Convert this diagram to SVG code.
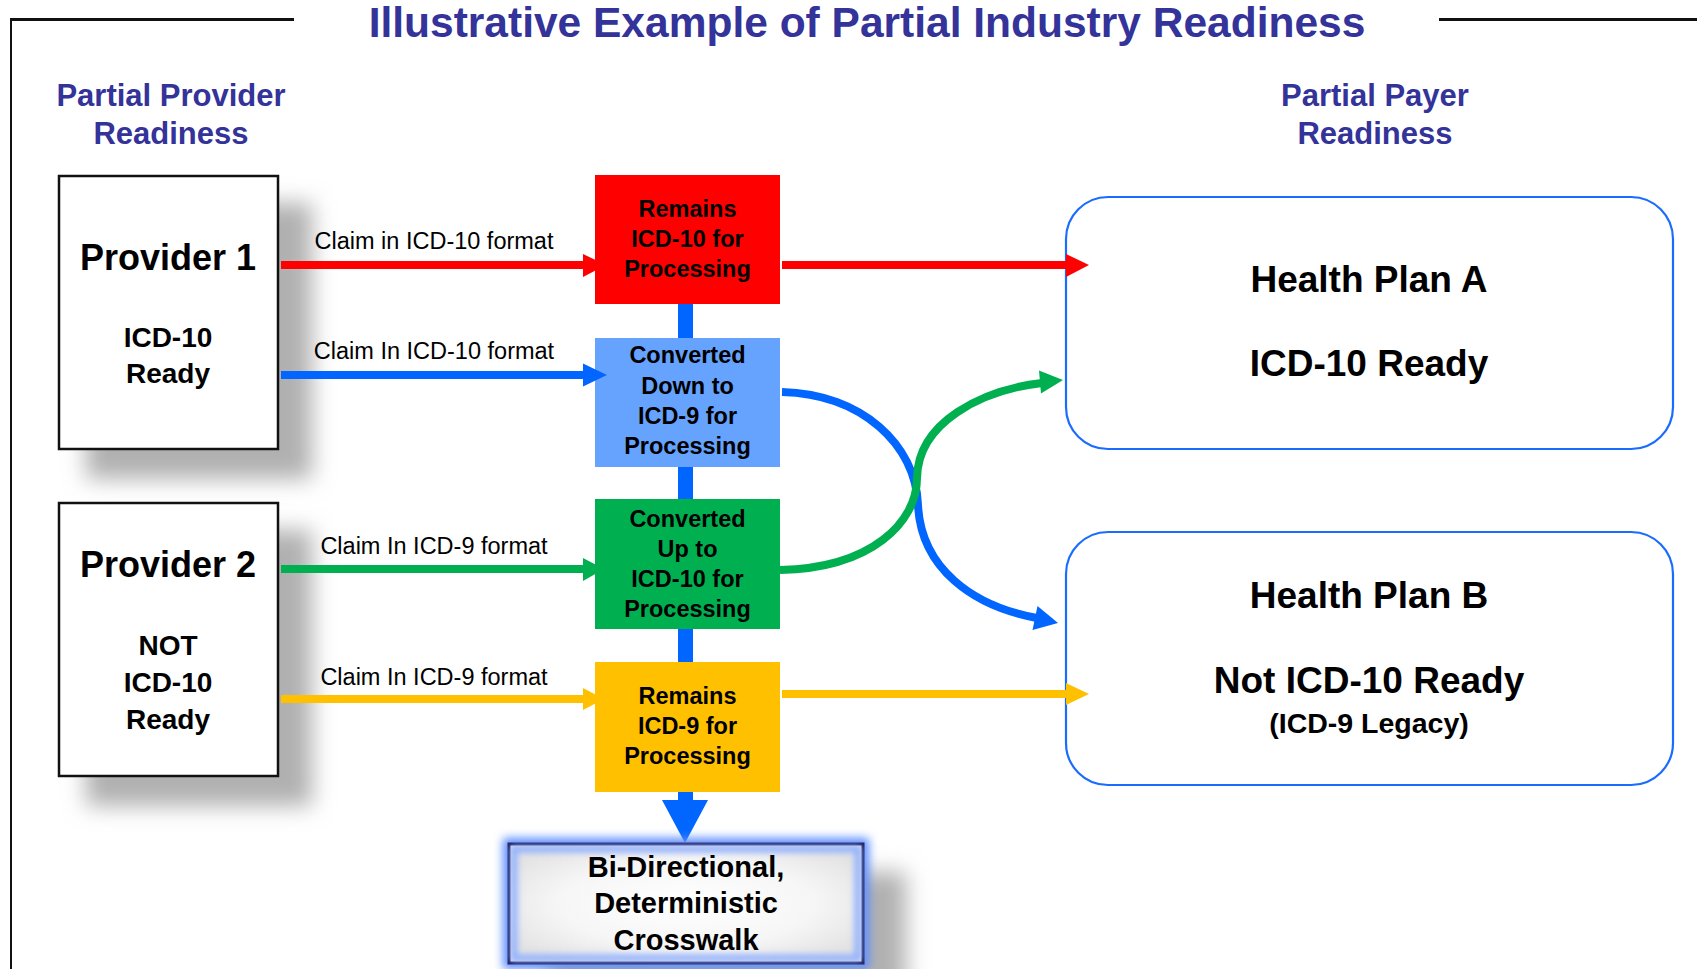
<svg xmlns="http://www.w3.org/2000/svg" width="1697" height="969" viewBox="0 0 1697 969">
<style>
  text { font-family: "Liberation Sans", Arial, sans-serif; text-anchor: middle; }
  .title { font-size: 42.5px; font-weight: bold; fill: #333399; }
  .head { font-size: 31px; font-weight: bold; fill: #333399; }
  .pbig { font-size: 36px; font-weight: bold; fill: #000; }
  .psub { font-size: 28px; font-weight: bold; fill: #000; }
  .mid { font-size: 23.5px; font-weight: bold; fill: #000; }
  .lbl { font-size: 23.5px; fill: #000; }
  .plan { font-size: 37px; font-weight: bold; fill: #000; }
  .legacy { font-size: 28.5px; font-weight: bold; fill: #000; }
  .cw { font-size: 29px; font-weight: bold; fill: #000; }
  .pbox { fill: #fff; stroke: #111; stroke-width: 2.5; }
  .hp { fill: #fff; stroke: #1a6cff; stroke-width: 2.2; }
  .shadow { fill: #b0b0b0; filter: url(#blur); }
</style>
<defs>
  <filter id="blur" x="-30%" y="-30%" width="160%" height="160%">
    <feGaussianBlur stdDeviation="11"/>
  </filter>
  <filter id="glow" x="-20%" y="-30%" width="140%" height="160%">
    <feGaussianBlur stdDeviation="5"/>
  </filter>
  <filter id="inglow" x="-10%" y="-20%" width="120%" height="140%">
    <feGaussianBlur stdDeviation="3"/>
  </filter>
  <radialGradient id="cwfill" cx="50%" cy="50%" r="60%">
    <stop offset="0" stop-color="#ffffff"/>
    <stop offset="0.6" stop-color="#f6f6f6"/>
    <stop offset="1" stop-color="#e2e2e2"/>
  </radialGradient>
</defs>

<!-- frame and title -->
<g id="frame">
  <line x1="11" y1="19.5" x2="294" y2="19.5" stroke="#111" stroke-width="3"/>
  <line x1="1439" y1="19.5" x2="1697" y2="19.5" stroke="#111" stroke-width="3"/>
  <line x1="11" y1="18" x2="11" y2="969" stroke="#111" stroke-width="2"/>
</g>
<g id="title">
  <text class="title" x="867" y="37">Illustrative Example of Partial Industry Readiness</text>
</g>
<g id="heading-provider">
  <text class="head" x="171" y="106">Partial Provider</text>
  <text class="head" x="171" y="144">Readiness</text>
</g>
<g id="heading-payer">
  <text class="head" x="1375" y="106">Partial Payer</text>
  <text class="head" x="1375" y="144">Readiness</text>
</g>

<!-- providers -->
<g id="provider1">
  <rect class="shadow" x="86" y="203" width="226" height="276"/>
  <rect class="pbox" x="59" y="176" width="219" height="273"/>
  <text class="pbig" x="168" y="270">Provider 1</text>
  <text class="psub" x="168" y="347">ICD-10</text>
  <text class="psub" x="168" y="383">Ready</text>
</g>
<g id="provider2">
  <rect class="shadow" x="86" y="530" width="226" height="276"/>
  <rect class="pbox" x="59" y="503" width="219" height="273"/>
  <text class="pbig" x="168" y="577">Provider 2</text>
  <text class="psub" x="168" y="655">NOT</text>
  <text class="psub" x="168" y="692">ICD-10</text>
  <text class="psub" x="168" y="729">Ready</text>
</g>

<!-- central blue spine (behind boxes) -->
<g id="spine">
  <rect x="678" y="300" width="15" height="502" fill="#0066ff"/>
  <polygon points="662,800 708,800 685,843" fill="#0066ff"/>
</g>

<!-- crosswalk -->
<g id="crosswalk">
  <rect class="shadow" x="548" y="872" width="358" height="120"/>
  <rect x="503" y="838" width="366" height="131" fill="#5b8cff" filter="url(#glow)"/>
  <rect x="509" y="844" width="354" height="119" fill="url(#cwfill)" stroke="#1a1a5c" stroke-width="3"/>
  <rect x="514" y="849" width="344" height="109" fill="none" stroke="#8fb0ff" stroke-width="7" filter="url(#inglow)"/>
  <text class="cw" x="686" y="877">Bi-Directional,</text>
  <text class="cw" x="686" y="913">Deterministic</text>
  <text class="cw" x="686" y="950">Crosswalk</text>
</g>

<!-- middle boxes -->
<g id="box-remains10">
  <rect x="595" y="175" width="185" height="129" fill="#ff0000"/>
  <text class="mid" x="687.5" y="217">Remains</text>
  <text class="mid" x="687.5" y="247">ICD-10 for</text>
  <text class="mid" x="687.5" y="277">Processing</text>
</g>
<g id="box-down9">
  <rect x="595" y="338" width="185" height="129" fill="#66a3ff"/>
  <text class="mid" x="687.5" y="363">Converted</text>
  <text class="mid" x="687.5" y="394">Down to</text>
  <text class="mid" x="687.5" y="424">ICD-9 for</text>
  <text class="mid" x="687.5" y="454">Processing</text>
</g>
<g id="box-up10">
  <rect x="595" y="499" width="185" height="130" fill="#00b050"/>
  <text class="mid" x="687.5" y="527">Converted</text>
  <text class="mid" x="687.5" y="557">Up to</text>
  <text class="mid" x="687.5" y="587">ICD-10 for</text>
  <text class="mid" x="687.5" y="617">Processing</text>
</g>
<g id="box-remains9">
  <rect x="595" y="662" width="185" height="130" fill="#ffc000"/>
  <text class="mid" x="687.5" y="704">Remains</text>
  <text class="mid" x="687.5" y="734">ICD-9 for</text>
  <text class="mid" x="687.5" y="764">Processing</text>
</g>

<!-- health plans -->
<g id="plan-a">
  <rect class="hp" x="1066" y="197" width="607" height="252" rx="42" ry="42"/>
  <text class="plan" x="1369" y="292">Health Plan A</text>
  <text class="plan" x="1369" y="376">ICD-10 Ready</text>
</g>
<g id="plan-b">
  <rect class="hp" x="1066" y="532" width="607" height="253" rx="42" ry="42"/>
  <text class="plan" x="1369" y="608">Health Plan B</text>
  <text class="plan" x="1369" y="693">Not ICD-10 Ready</text>
  <text class="legacy" x="1369" y="733">(ICD-9 Legacy)</text>
</g>

<!-- connectors -->
<g id="connectors">
  <!-- provider 1 -> red -->
  <line x1="281" y1="265" x2="585" y2="265" stroke="#ff0000" stroke-width="8"/>
  <polygon points="583,254 583,277 606,265" fill="#ff0000"/>
  <text class="lbl" x="434" y="249">Claim in ICD-10 format</text>
  <!-- provider 1 -> blue -->
  <line x1="281" y1="375" x2="585" y2="375" stroke="#0066ff" stroke-width="8"/>
  <polygon points="583,363.5 583,386.5 607,375" fill="#0066ff"/>
  <text class="lbl" x="434" y="359">Claim In ICD-10 format</text>
  <!-- provider 2 -> green -->
  <line x1="281" y1="569" x2="585" y2="569" stroke="#00b050" stroke-width="8"/>
  <polygon points="583,558 583,581 604,569" fill="#00b050"/>
  <text class="lbl" x="434" y="554">Claim In ICD-9 format</text>
  <!-- provider 2 -> orange -->
  <line x1="281" y1="699" x2="585" y2="699" stroke="#ffc000" stroke-width="8"/>
  <polygon points="583,688 583,710 604,699" fill="#ffc000"/>
  <text class="lbl" x="434" y="685">Claim In ICD-9 format</text>

  <!-- red -> plan A -->
  <line x1="782" y1="265" x2="1068" y2="265" stroke="#ff0000" stroke-width="8"/>
  <polygon points="1066,254 1066,277 1089,265" fill="#ff0000"/>
  <!-- orange -> plan B -->
  <line x1="782" y1="694" x2="1068" y2="694" stroke="#ffc000" stroke-width="8"/>
  <polygon points="1066,683 1066,705 1089,694" fill="#ffc000"/>

  <!-- blue box -> plan B (curve) -->
  <path d="M 782 392 C 862 394, 916 445, 918 505 C 921 568, 972 606, 1037 618" fill="none" stroke="#0066ff" stroke-width="8"/>
  <polygon points="1037.5,606 1032.5,630 1058,623" fill="#0066ff"/>
  <!-- green box -> plan A (curve) -->
  <path d="M 780 570 C 872 568, 917 522, 917 478 C 918 422, 982 390, 1042 383" fill="none" stroke="#00b050" stroke-width="8"/>
  <polygon points="1039,370.5 1041,393.5 1063,380" fill="#00b050"/>
</g>
</svg>
